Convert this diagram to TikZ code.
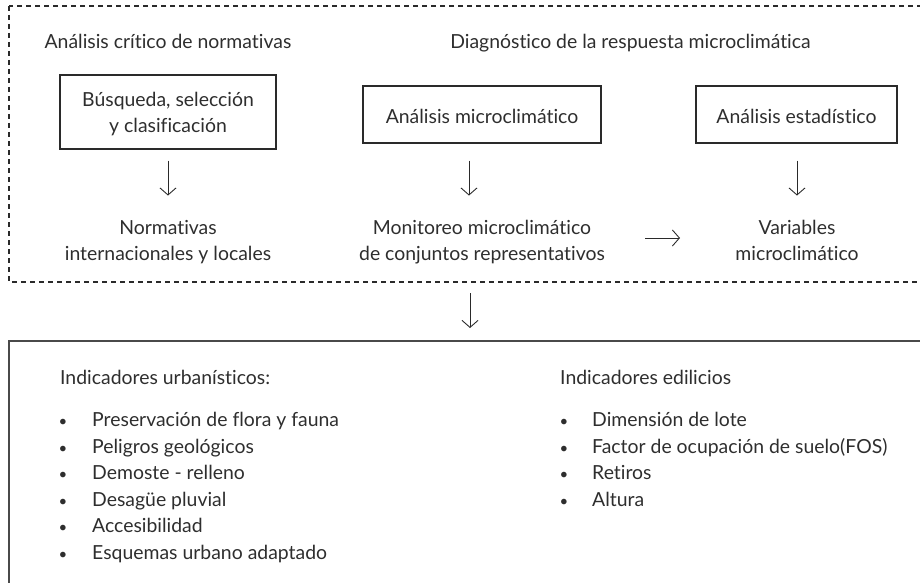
\documentclass[tikz,border=0pt]{standalone}
\usepackage{fontspec}
\setmainfont[Ligatures={NoCommon}]{Lato}
\usetikzlibrary{arrows.meta}
\definecolor{tx}{HTML}{2E2E2E}
\definecolor{ln}{HTML}{2A2A2A}
\begin{document}
\begin{tikzpicture}[x=1pt,y=-1pt,
  every node/.style={text=tx,font=\fontsize{19.4}{26}\selectfont,inner sep=0pt},
  lbl/.style={anchor=base,align=center},
  boxn/.style={draw=ln,line width=1.1pt,minimum height=57pt,align=center},
  arr/.style={draw=ln,line width=0.9pt,-{Straight Barb[length=7pt,width=16pt,line width=0.9pt]}},
  itm/.style={anchor=base west},
  bul/.style={anchor=base,font=\fontsize{15}{15}\selectfont}]
\useasboundingbox (0,0) rectangle (920,583);
\begin{scope}
\clip (0,0) rectangle (920,583);
\draw[ln,line width=1.2pt,dash pattern=on 5pt off 4pt] (9,6) rectangle (950,282);
\draw[draw=ln!85,line width=1.6pt] (9,341) rectangle (950,620);
\end{scope}
% headings
\node[lbl] (h1) at (168,48.3) {Análisis crítico de normativas};
\node[lbl] (h2) at (630.5,48.3) {Diagnóstico de la respuesta microclimática};
% boxes
\node[draw=ln,line width=1.1pt,minimum width=216pt,minimum height=74pt] (b1) at (168,112) {};
\node[lbl] (b1t) at (168,132.7) {Búsqueda, selección\\y clasificación};
\node[boxn,minimum width=238pt] (b2) at (482,114.5) {};
\node[anchor=base] (b2t) at (482,123.3) {Análisis microclimático};
\node[boxn,minimum width=201pt] (b3) at (796.5,114.5) {};
\node[anchor=base] (b3t) at (796.5,123.3) {Análisis estadístico};
% results
\node[lbl] (r1) at (168,260.7) {Normativas\\internacionales y locales};
\node[lbl] (r2) at (482,260.7) {Monitoreo microclimático\\de conjuntos representativos};
\node[lbl] (r3) at (797,260.7) {Variables\\microclimático};
% arrows
\draw[arr] (b1.south) ++(0,11) coordinate (a1s) -- ++(0,35);
\draw[arr] ([xshift=-13pt]b2.south) ++(0,17) coordinate (a2s) -- ++(0,35);
\draw[arr] ([xshift=0.5pt]b3.south) ++(0,17) coordinate (a3s) -- ++(0,35);
\coordinate (hs) at (645,238);
\coordinate (he) at (680,238);
\draw[arr] (hs) -- (he);
\coordinate (ds) at (470,293);
\coordinate (de) at (470,328);
\draw[arr] (ds) -- (de);
% bottom lists
\node[itm] (u0) at (60,384) {Indicadores urbanísticos:};
\foreach \t [count=\i] in {Preservación de flora y fauna,Peligros geológicos,Demoste - relleno,Desagüe pluvial,Accesibilidad,Esquemas urbano adaptado}{
  \node[bul] (ub\i) at (63,{400.2+26.5*\i}) {•};
  \node[itm] (u\i) at (92,{400.2+26.5*\i}) {\t};
}
\node[itm] (e0) at (560,384) {Indicadores edilicios};
\foreach \t [count=\i] in {Dimensión de lote,Factor de ocupación de suelo(FOS),Retiros,Altura}{
  \node[bul] (eb\i) at (564,{400.2+26.5*\i}) {•};
  \node[itm] (e\i) at (592,{400.2+26.5*\i}) {\t};
}
\end{tikzpicture}
\end{document}
